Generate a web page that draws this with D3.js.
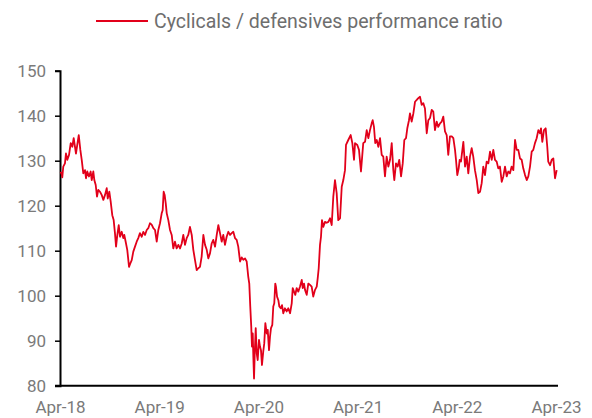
<!DOCTYPE html>
<html>
<head>
<meta charset="utf-8">
<script src="https://cdn.jsdelivr.net/npm/d3@7"></script>
<style>
  body { margin: 0; background: #fff; }
  svg text { font-family: Roboto, "Liberation Sans", sans-serif; }
</style>
</head>
<body>
<div class="chart"></div>
<script>
// years elapsed since Apr-18
var t = [0.005,0.017,0.023,0.033,0.050,0.060,0.074,0.091,0.108,0.124,0.138,0.151,0.161,0.174,0.189,0.205,0.219,0.235,0.252,0.262,
  0.275,0.292,0.309,0.320,0.336,0.346,0.360,0.373,0.386,0.403,0.420,0.437,0.454,0.471,0.481,0.497,0.511,0.527,0.541,0.554,
  0.565,0.578,0.592,0.605,0.622,0.638,0.648,0.662,0.678,0.696,0.709,0.723,0.739,0.756,0.773,0.789,0.806,0.824,0.840,0.857,
  0.874,0.890,0.907,0.924,0.941,0.958,0.975,0.991,1.008,1.025,1.035,1.045,1.055,1.066,1.076,1.092,1.109,1.126,1.142,1.159,
  1.176,1.193,1.210,1.227,1.243,1.260,1.277,1.293,1.310,1.328,1.344,1.361,1.378,1.394,1.411,1.428,1.445,1.462,1.479,1.495,
  1.512,1.529,1.545,1.563,1.580,1.596,1.613,1.630,1.646,1.663,1.680,1.697,1.714,1.731,1.747,1.764,1.781,1.797,1.815,1.832,
  1.848,1.865,1.882,1.898,1.908,1.918,1.928,1.935,1.943,1.949,1.956,1.963,1.973,1.983,1.993,2.006,2.016,2.026,2.036,2.049,
  2.059,2.070,2.084,2.094,2.107,2.117,2.127,2.140,2.150,2.160,2.170,2.177,2.188,2.201,2.211,2.225,2.238,2.251,2.268,2.285,
  2.301,2.319,2.336,2.346,2.359,2.372,2.386,2.402,2.419,2.437,2.447,2.460,2.470,2.487,2.503,2.520,2.537,2.553,2.571,2.588,
  2.598,2.608,2.621,2.631,2.641,2.654,2.671,2.688,2.705,2.722,2.739,2.755,2.772,2.789,2.805,2.823,2.840,2.856,2.873,2.883,
  2.906,2.930,2.947,2.964,2.974,2.997,3.014,3.034,3.057,3.075,3.092,3.108,3.125,3.142,3.152,3.165,3.178,3.193,3.209,3.226,
  3.243,3.259,3.276,3.293,3.310,3.327,3.344,3.360,3.370,3.387,3.404,3.420,3.438,3.455,3.471,3.488,3.501,3.518,3.528,3.545,
  3.562,3.579,3.596,3.612,3.629,3.646,3.662,3.679,3.697,3.713,3.730,3.747,3.763,3.780,3.797,3.813,3.831,3.848,3.864,3.881,
  3.898,3.914,3.931,3.949,3.965,3.982,3.992,4.005,4.019,4.029,4.042,4.066,4.083,4.100,4.116,4.133,4.150,4.166,4.183,4.201,
  4.217,4.234,4.251,4.267,4.284,4.301,4.318,4.335,4.352,4.368,4.385,4.402,4.418,4.435,4.453,4.469,4.486,4.503,4.519,4.536,
  4.553,4.570,4.587,4.604,4.620,4.637,4.654,4.670,4.688,4.705,4.721,4.738,4.755,4.771,4.788,4.805,4.822,4.839,4.849,4.862,
  4.879,4.896,4.912,4.922,4.940,4.957,4.973,4.990,5.007];

var ratio = [127.5,127.0,126.3,128.7,129.4,131.6,130.2,131.3,133.9,133.1,135.0,133.1,131.6,133.5,135.7,132.4,130.2,127.2,127.9,126.1,
  127.6,126.5,127.6,125.7,127.6,125.7,124.6,122.0,123.5,123.1,122.4,121.3,122.4,123.9,121.6,123.1,120.9,117.9,116.8,113.9,
  110.9,113.5,115.7,113.1,114.2,112.8,113.5,112.0,110.2,106.4,107.2,107.9,109.8,110.9,112.0,112.8,113.9,113.1,114.2,113.5,
  114.6,115.0,116.1,115.8,115.0,114.6,112.0,114.6,116.1,118.3,119.0,123.1,122.4,120.5,118.3,116.8,114.6,113.5,110.5,112.0,
  110.5,111.3,110.5,111.6,113.5,111.3,112.8,113.5,115.3,113.5,110.2,107.9,105.7,106.1,106.4,108.7,113.5,111.3,110.2,108.3,
  109.4,111.6,112.4,110.9,113.5,115.7,113.9,112.0,113.5,111.3,113.1,114.2,113.5,113.9,114.2,112.8,112.4,110.9,107.6,108.5,
  108.0,108.3,107.6,104.2,102.7,97.6,93.1,88.7,91.6,86.4,81.6,87.2,92.8,87.2,85.7,90.2,88.7,87.9,84.6,87.6,
  89.4,93.9,91.6,92.4,87.9,90.9,92.8,93.5,97.6,98.3,102.7,102.0,99.8,99.0,97.6,97.2,97.9,96.1,97.2,96.5,
  97.2,96.1,98.3,101.7,100.9,100.2,101.7,100.9,102.0,103.5,101.7,102.7,101.3,100.2,102.7,102.4,102.0,99.8,101.3,102.0,
  103.9,106.1,111.3,113.1,116.8,115.3,116.4,116.2,116.4,117.2,115.7,122.0,125.7,122.8,116.8,117.2,124.2,125.7,127.9,133.5,
  134.6,135.7,133.9,130.2,133.9,133.5,132.4,127.6,133.9,134.2,136.8,135.0,136.8,138.3,139.0,137.5,133.9,134.6,133.1,135.0,
  131.3,130.9,126.5,130.9,128.7,130.2,133.9,127.9,125.7,129.4,128.7,130.2,126.5,129.4,134.6,135.0,137.2,139.0,140.5,138.7,
  140.5,143.1,143.5,143.9,144.2,142.4,142.8,141.6,136.1,139.0,139.5,141.3,140.9,136.8,138.7,137.5,138.3,138.7,139.8,136.5,
  135.7,131.3,135.4,135.4,135.0,132.4,130.2,126.8,128.3,130.2,129.8,134.2,128.7,130.9,127.2,130.9,132.8,130.9,127.9,125.7,
  122.8,123.1,125.0,128.7,126.8,129.8,129.4,132.0,130.2,132.4,130.2,129.8,128.3,128.7,125.3,126.5,128.7,126.5,127.6,127.2,
  128.7,127.9,134.6,132.4,132.4,130.5,130.2,128.3,126.8,125.7,126.5,128.7,132.0,132.4,133.9,135.0,136.8,136.1,137.2,134.2,
  136.8,137.2,133.1,129.8,129.0,130.2,130.5,126.1,127.9];

var yTicks = [80, 90, 100, 110, 120, 130, 140, 150];
var xTicks = [0, 1, 2, 3, 4, 5];
var xTickLabels = ["Apr-18", "Apr-19", "Apr-20", "Apr-21", "Apr-22", "Apr-23"];
var seriesName = "Cyclicals / defensives performance ratio";

var dataset = t.map(function(d, i) { return [d, ratio[i]]; });

var width = 592;
var height = 418;
var margin = { "top": 70.7, "bottom": 32.3, "right": 36, "left": 60 };
var red = "#e2001a";
var grey = "#7a7a7a";

var svg = d3.select("div.chart").append("svg").attr("width", width).attr("height", height);

var xScale = d3.scaleLinear()
  .domain([0, 5])
  .range([margin.left, width - margin.right]);

var yScale = d3.scaleLinear()
  .domain([80, 150])
  .range([height - margin.bottom, margin.top]);

// y軸
var gy = svg.append("g")
  .attr("transform", "translate(" + margin.left + ",0)")
  .call(d3.axisLeft(yScale).tickValues(yTicks).tickSize(5).tickPadding(9).tickFormat(d3.format("d")));
gy.select(".domain").attr("stroke", "#000").attr("stroke-width", 2);
gy.selectAll(".tick line").attr("stroke", "#000").attr("stroke-width", 1.5);
gy.selectAll(".tick text").attr("fill", grey).attr("font-size", "17px");

// x軸 (no tick marks, line runs from the y tick to past the last label)
var gx = svg.append("g")
  .attr("transform", "translate(0," + (height - margin.bottom) + ")")
  .call(d3.axisBottom(xScale).tickValues(xTicks).tickSize(0).tickPadding(15)
    .tickFormat(function(d, i) { return xTickLabels[i]; }));
gx.select(".domain").remove();
gx.append("line")
  .attr("x1", margin.left - 5).attr("x2", xScale(5) + 2)
  .attr("stroke", "#000").attr("stroke-width", 2);
gx.selectAll(".tick text").attr("fill", grey).attr("font-size", "17px");

// ライン
svg.append("path")
  .datum(dataset)
  .attr("fill", "none")
  .attr("stroke", red)
  .attr("stroke-width", 1.8)
  .attr("stroke-linejoin", "round")
  .attr("d", d3.line()
    .x(function(d) { return xScale(d[0]); })
    .y(function(d) { return yScale(d[1]); }));

// 凡例
var legend = svg.append("g").attr("transform", "translate(96,21)");
legend.append("line").attr("x1", 0).attr("x2", 52).attr("stroke", red).attr("stroke-width", 2);
legend.append("text")
  .attr("x", 58).attr("y", 0).attr("dy", "0.35em")
  .attr("fill", "#6e6e6e").attr("font-size", "19.5px")
  .text(seriesName);
</script>
</body>
</html>
